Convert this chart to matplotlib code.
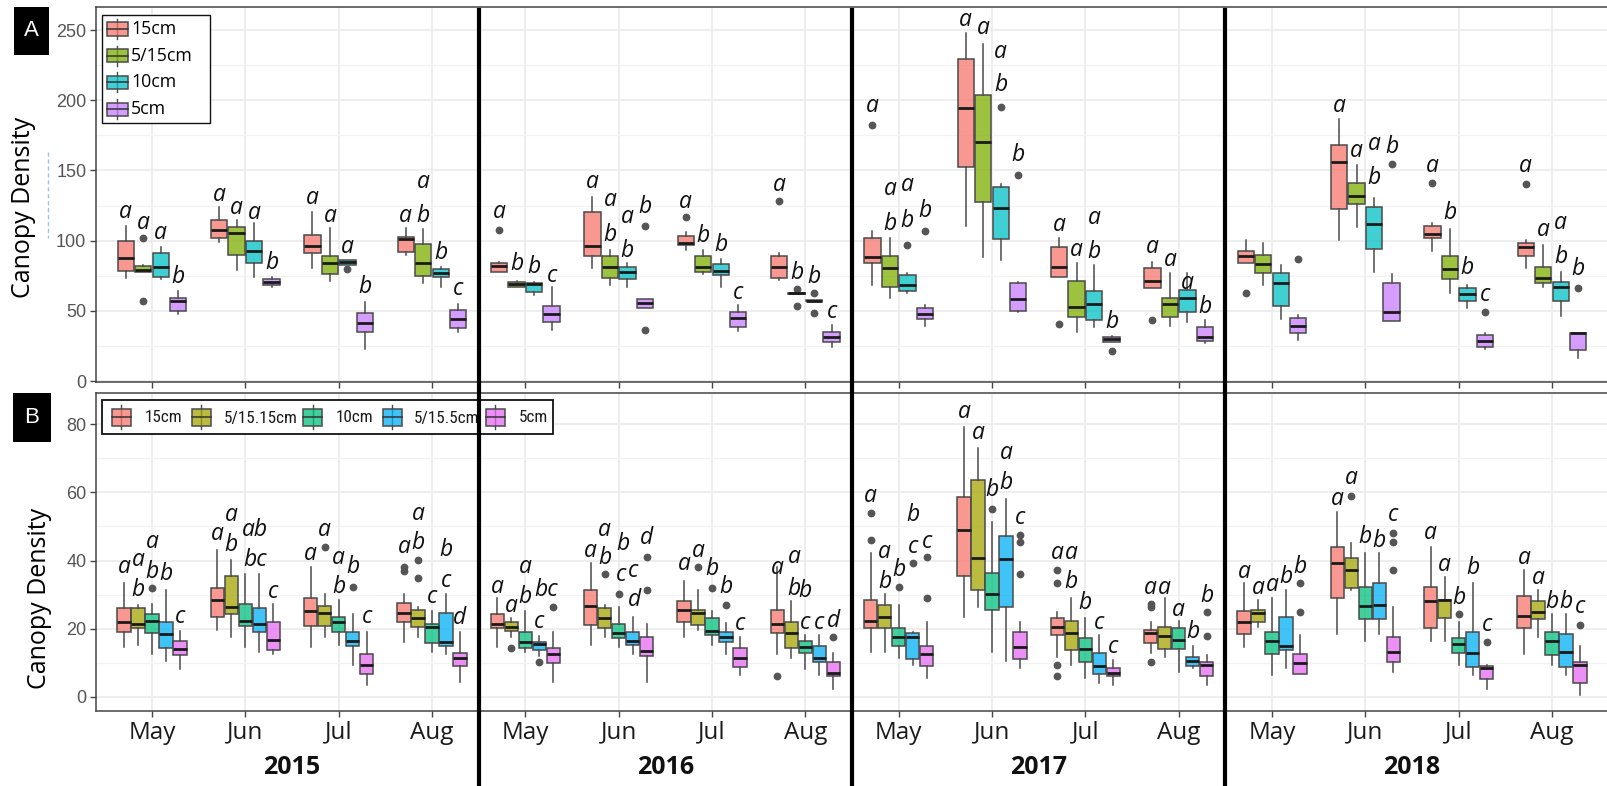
import matplotlib
matplotlib.use("Agg")
import matplotlib.pyplot as plt
from matplotlib import font_manager as fm
from matplotlib.colors import to_rgba
from matplotlib.patches import Rectangle
from matplotlib.lines import Line2D
from matplotlib.transforms import blended_transform_factory
from matplotlib.ticker import MultipleLocator

W, H = 1608, 786

years = ["2015", "2016", "2017", "2018"]
months = ["May", "Jun", "Jul", "Aug"]

# ---------------------------------------------------------------- panel A
treat_a = ["15cm", "5/15cm", "10cm", "5cm"]
colors_a = ["#F8766D", "#7CAE00", "#00BFC4", "#C77CFF"]

# rows: 2015 May ... 2018 Aug ; columns: treatments in legend order
a_low = [
    [73.1, 77.5, 72.4, 47.5], [98.8, 79.1, 74.3, 67.2], [80.2, 71.2, 82.6, 22.8], [89.7, 70.0, 67.2, 35.1],
    [77.5, 67.0, 61.5, 36.3], [80.2, 68.4, 66.7, 52.2], [93.3, 76.5, 66.7, 35.6], [71.9, 62.0, 56.8, 24.5],
    [68.4, 58.9, 62.9, 39.4], [110.4, 88.1, 86.2, 49.0], [74.3, 34.7, 38.2, 27.5], [66.0, 39.2, 42.3, 26.8],
    [84.3, 68.4, 43.9, 29.2], [100.4, 109.9, 77.9, 43.0], [92.8, 62.9, 51.8, 23.0], [80.2, 66.7, 46.3, 16.1],
]
a_q1 = [
    [78.3, 77.9, 74.3, 49.9], [101.6, 89.7, 84.3, 68.4], [90.9, 76.2, 82.6, 34.7], [92.1, 74.8, 73.8, 37.5],
    [77.9, 67.2, 63.6, 42.3], [89.0, 73.6, 72.4, 52.2], [96.9, 77.4, 75.3, 38.7], [73.6, 62.0, 56.8, 28.0],
    [84.3, 66.7, 64.3, 43.9], [152.7, 127.3, 100.9, 50.1], [74.3, 45.3, 43.4, 28.0], [66.0, 45.3, 49.4, 28.7],
    [84.3, 77.2, 53.4, 34.4], [122.3, 126.1, 93.8, 43.0], [101.6, 72.4, 57.2, 24.0], [89.0, 69.6, 57.2, 22.1],
]
a_med = [
    [87.8, 79.1, 81.2, 57.0], [107.5, 105.2, 92.8, 70.5], [96.2, 83.8, 84.5, 41.5], [101.4, 83.8, 77.2, 44.4],
    [82.1, 69.1, 69.1, 47.5], [96.4, 81.0, 77.9, 55.3], [98.1, 81.0, 78.6, 45.1], [81.0, 62.4, 57.2, 31.1],
    [88.6, 80.2, 68.4, 47.5], [194.7, 170.5, 123.0, 58.4], [81.0, 52.9, 54.8, 29.7], [71.2, 54.8, 58.9, 31.6],
    [89.0, 83.3, 70.0, 39.2], [155.7, 131.8, 111.8, 48.9], [104.5, 79.5, 62.0, 28.7], [95.7, 73.1, 67.2, 34.4],
]
a_q3 = [
    [100.0, 81.9, 90.9, 58.9], [114.7, 109.4, 100.0, 72.6], [103.8, 89.0, 86.4, 48.2], [102.8, 97.6, 79.5, 50.6],
    [84.3, 70.8, 69.6, 53.4], [120.1, 89.0, 81.4, 58.2], [103.5, 89.0, 83.3, 48.9], [89.0, 62.8, 57.6, 34.7],
    [101.6, 89.0, 75.5, 52.2], [229.1, 203.7, 138.4, 69.6], [95.7, 71.2, 64.3, 31.6], [80.2, 58.9, 64.8, 38.7],
    [92.8, 89.7, 77.2, 45.1], [168.1, 140.8, 124.2, 69.6], [110.4, 89.0, 66.0, 32.8], [98.1, 81.4, 70.8, 34.4],
]
a_high = [
    [110.6, 82.5, 95.2, 64.3], [124.2, 114.7, 112.8, 74.3], [120.6, 108.7, 86.4, 56.5], [109.2, 108.0, 81.4, 54.8],
    [84.8, 71.5, 70.5, 66.7], [130.8, 93.3, 83.8, 58.2], [105.9, 93.3, 86.7, 54.1], [90.9, 62.8, 57.6, 39.9],
    [106.8, 102.1, 76.7, 54.1], [247.6, 240.0, 140.1, 70.5], [102.1, 84.3, 82.6, 32.0], [85.0, 76.7, 76.7, 43.4],
    [100.4, 98.1, 82.6, 47.0], [186.6, 153.8, 130.1, 76.2], [112.8, 108.0, 68.4, 34.4], [100.4, 96.9, 77.9, 34.4],
]
# outlying points: (month index, treatment index) -> values
a_out = {
    (0, 1): [101.6, 57.0], (2, 2): [79.5], (4, 0): [107.5], (5, 3): [110.6, 36.3],
    (6, 0): [116.6], (7, 0): [128.2], (7, 1): [65.5, 53.4], (7, 2): [62.4, 48.2],
    (8, 0): [182.3], (8, 2): [96.9], (8, 3): [106.8], (9, 2): [195.4], (9, 3): [146.7],
    (10, 0): [40.6], (10, 3): [21.4], (11, 0): [43.4], (12, 0): [62.9], (12, 3): [86.7],
    (13, 3): [154.3], (14, 0): [140.8], (14, 3): [49.4], (15, 0): [140.1], (15, 3): [66.0],
}
# significance letters: (month index, treatment slot, letter, height)
a_letters = [
    (0, 0, "a", 120.6), (0, 1, "a", 112.3), (0, 2, "a", 105.2), (0, 3, "b", 74.3),
    (1, 0, "a", 132.5), (1, 1, "a", 123.0), (1, 2, "a", 119.4), (1, 3, "b", 83.8),
    (2, 0, "a", 130.6), (2, 1, "a", 117.5), (2, 2, "a", 95.7), (2, 3, "b", 67.2),
    (3, 0, "a", 117.5), (3, 1, "b", 117.5), (3, 1, "a", 142.0), (3, 2, "b", 90.9), (3, 3, "c", 65.3),
    (4, 0, "a", 120.6), (4, 1, "b", 83.1), (4, 2, "b", 81.4), (4, 3, "c", 74.8),
    (5, 0, "a", 142.0), (5, 1, "b", 104.0), (5, 1, "a", 128.9), (5, 2, "b", 92.8), (5, 2, "a", 117.0), (5, 3, "b", 124.2),
    (6, 0, "a", 127.7), (6, 1, "b", 103.3), (6, 2, "b", 96.9), (6, 3, "c", 62.9),
    (7, 0, "a", 139.6), (7, 1, "b", 77.2), (7, 2, "b", 74.3), (7, 3, "c", 49.4),
    (8, 0, "a", 195.9), (8, 1, "b", 111.8), (8, 1, "a", 136.5), (8, 2, "b", 114.2), (8, 2, "a", 139.6), (8, 3, "b", 121.0),
    (9, 0, "a", 257.1), (9, 1, "a", 251.2), (9, 2, "a", 234.6), (9, 2, "b", 210.8), (9, 3, "b", 161.0),
    (10, 0, "a", 111.1), (10, 1, "a", 93.3), (10, 2, "b", 92.1), (10, 2, "a", 115.9), (10, 3, "b", 42.3),
    (11, 0, "a", 95.7), (11, 1, "a", 86.2), (11, 2, "a", 70.0), (11, 3, "b", 52.9),
    (13, 0, "a", 195.9), (13, 1, "a", 164.1), (13, 2, "b", 144.3), (13, 2, "a", 168.8), (13, 3, "b", 166.9),
    (14, 0, "a", 153.1), (14, 1, "b", 119.4), (14, 2, "b", 80.2), (14, 3, "c", 61.3),
    (15, 0, "a", 153.4), (15, 1, "a", 107.5), (15, 2, "b", 88.6), (15, 2, "a", 112.8), (15, 3, "b", 79.5),
]

# ---------------------------------------------------------------- panel B
treat_b = ["15cm", "5/15.15cm", "10cm", "5/15.5cm", "5cm"]
colors_b = ["#F8766D", "#A3A500", "#00BF7D", "#00B0F6", "#E76BF3"]

b_low = [
    [14.5, 15.2, 12.5, 10.6, 8.1], [19.6, 17.6, 14.5, 13.2, 12.5], [14.5, 17.6, 15.2, 9.3, 3.4], [16.2, 17.6, 13.2, 12.5, 4.4],
    [14.5, 17.6, 13.2, 11.9, 4.4], [15.2, 17.6, 14.5, 12.5, 4.2], [17.6, 19.6, 15.2, 12.5, 6.4], [12.5, 11.3, 8.1, 6.4, 2.4],
    [13.2, 13.2, 11.3, 9.3, 5.4], [23.3, 26.4, 13.2, 10.6, 8.3], [11.6, 9.3, 5.4, 4.1, 3.4], [12.7, 11.6, 7.3, 8.3, 3.4],
    [14.5, 20.4, 6.4, 8.3, 6.7], [18.4, 31.3, 16.4, 18.4, 7.3], [16.4, 16.4, 9.3, 6.4, 2.4], [12.5, 17.6, 9.3, 6.4, 0.5],
]
b_q1 = [
    [19.1, 20.1, 18.6, 14.2, 12.2], [23.5, 24.3, 20.8, 19.1, 13.7], [20.8, 20.8, 19.1, 14.9, 6.7], [21.8, 20.4, 15.9, 14.9, 9.0],
    [20.1, 19.4, 14.2, 13.7, 9.8], [21.0, 20.1, 17.3, 15.2, 11.9], [21.8, 21.0, 18.1, 16.2, 8.6], [18.8, 14.2, 12.9, 10.3, 6.1],
    [20.1, 20.1, 14.9, 11.0, 9.0], [35.4, 31.3, 25.5, 26.4, 11.0], [18.1, 13.7, 10.3, 6.7, 6.1], [15.7, 13.9, 13.9, 9.0, 6.1],
    [18.4, 21.8, 12.5, 13.7, 6.7], [28.9, 31.8, 22.7, 22.7, 10.3], [20.1, 23.0, 12.9, 8.8, 5.1], [20.1, 22.7, 12.2, 8.8, 3.9],
]
b_med = [
    [22.0, 21.3, 22.3, 18.3, 13.9], [28.4, 26.2, 22.3, 21.3, 16.8], [25.3, 24.7, 22.0, 16.4, 9.3], [24.7, 23.0, 20.6, 16.2, 11.3],
    [21.3, 20.6, 16.2, 15.5, 12.5], [26.7, 23.0, 18.6, 16.4, 13.5], [25.6, 24.5, 19.4, 17.6, 11.3], [21.3, 18.8, 14.7, 11.3, 7.0],
    [22.3, 23.5, 17.6, 17.6, 12.5], [48.9, 40.6, 30.2, 40.4, 14.7], [20.4, 18.6, 13.9, 9.0, 7.0], [18.6, 17.9, 16.6, 10.5, 9.3],
    [21.8, 24.5, 16.4, 14.9, 9.8], [39.4, 37.2, 26.6, 26.9, 13.2], [28.2, 28.4, 15.5, 12.9, 8.3], [23.7, 25.0, 16.4, 13.2, 9.3],
]
b_q3 = [
    [26.1, 26.1, 24.2, 21.8, 16.4], [32.0, 35.4, 27.2, 26.1, 22.0], [28.9, 26.6, 23.5, 19.1, 12.5], [27.4, 25.5, 21.3, 24.5, 12.9],
    [24.2, 21.8, 19.1, 16.2, 14.2], [31.3, 26.1, 21.3, 19.1, 17.6], [28.2, 25.5, 23.0, 19.1, 14.2], [25.5, 21.8, 16.4, 14.9, 10.3],
    [28.4, 26.9, 20.1, 18.6, 14.9], [58.7, 63.6, 36.2, 47.2, 19.1], [23.0, 22.3, 17.1, 12.9, 8.3], [19.6, 20.4, 20.1, 11.6, 10.3],
    [25.3, 25.5, 19.1, 23.5, 12.5], [44.1, 40.8, 32.3, 33.3, 17.6], [32.3, 28.4, 17.1, 19.1, 9.0], [29.6, 28.2, 19.1, 18.4, 10.3],
]
b_high = [
    [33.3, 26.9, 27.1, 31.3, 19.3], [43.1, 40.1, 36.0, 36.0, 27.1], [38.2, 30.2, 28.4, 24.2, 19.1], [30.2, 26.2, 25.3, 30.2, 19.1],
    [29.1, 23.0, 25.3, 17.9, 19.1], [39.2, 26.9, 26.2, 23.3, 21.3], [34.1, 31.3, 25.3, 21.7, 17.4], [38.0, 28.2, 18.1, 18.1, 12.9],
    [42.3, 30.2, 26.9, 19.1, 22.0], [79.1, 72.9, 51.2, 58.2, 22.0], [25.0, 28.9, 23.0, 18.1, 10.8], [22.0, 28.9, 22.3, 14.9, 12.2],
    [33.3, 28.4, 28.9, 31.3, 18.1], [54.3, 45.2, 42.3, 42.3, 26.2], [44.1, 35.2, 22.0, 33.3, 9.3], [37.2, 31.3, 24.3, 24.3, 14.9],
]
b_out = {
    (0, 2): [31.8], (2, 1): [44.1], (2, 3): [32.1], (3, 0): [38.0, 37.0], (3, 1): [40.1, 35.0],
    (4, 1): [14.2], (4, 3): [10.3], (4, 4): [26.2], (5, 1): [36.0], (5, 2): [30.1], (5, 4): [40.9, 31.3],
    (6, 1): [38.2], (6, 2): [32.0], (6, 3): [26.9], (7, 0): [6.1], (7, 4): [17.4],
    (8, 0): [46.0, 54.0], (8, 2): [32.1], (8, 3): [39.2], (8, 4): [40.9, 28.9],
    (9, 2): [55.0], (9, 4): [47.5, 45.5, 36.0], (10, 0): [37.2, 33.3, 9.3, 6.1],
    (11, 0): [27.1, 26.4, 10.3], (11, 4): [25.0, 17.9], (12, 4): [33.3, 25.0],
    (13, 1): [58.9], (13, 4): [48.2, 45.5, 37.2], (14, 2): [24.3], (14, 4): [16.2], (15, 4): [21.0],
}
b_letters = [
    (0, 0, "a", 38.2), (0, 1, "a", 40.1), (0, 1, "b", 31.3), (0, 2, "a", 45.5), (0, 2, "b", 36.7), (0, 3, "b", 36.0), (0, 4, "c", 23.3),
    (1, 0, "a", 47.8), (1, 1, "a", 53.4), (1, 1, "b", 44.5), (1, 2.7, "ab", 49.1), (1, 2.7, "bc", 40.1), (1, 4, "c", 30.8),
    (2, 0, "a", 41.8), (2, 1, "a", 48.9), (2, 2, "a", 40.6), (2, 2, "b", 32.1), (2, 3, "b", 38.2), (2, 4, "c", 23.5),
    (3, 0, "a", 44.1), (3, 1, "b", 45.0), (3, 1, "a", 53.8), (3, 2, "c", 29.2), (3, 3, "c", 34.1), (3, 3, "b", 43.1), (3, 4, "d", 23.0),
    (4, 0, "a", 32.3), (4, 1, "a", 26.6), (4, 2, "b", 29.4), (4, 2, "a", 38.0), (4, 3, "c", 22.0), (4, 3.5, "bc", 31.3),
    (5, 0, "a", 42.8), (5, 1, "b", 40.6), (5, 1, "a", 49.1), (5, 2.3, "b", 44.8), (5, 2.2, "c", 35.7), (5, 3, "c", 36.9),
    (5, 3.1, "d", 28.4), (5, 4, "d", 46.5),
    (6, 0, "a", 38.9), (6, 1, "a", 42.9), (6, 2, "b", 37.4), (6, 3, "b", 32.1), (6, 4, "c", 21.3),
    (7, 0, "a", 37.7), (7, 1.2, "a", 40.9), (7, 1.2, "b", 31.6), (7, 2, "b", 31.1), (7, 2, "c", 21.5), (7, 3, "c", 21.5), (7, 4, "d", 22.3),
    (8, 0, "a", 58.9), (8, 1, "a", 42.6), (8, 1, "b", 33.8), (8, 2, "b", 37.2), (8, 3, "c", 44.1), (8, 3, "b", 53.4), (8, 4, "c", 45.5),
    (9, 0, "a", 83.7), (9, 1, "a", 77.5), (9, 2, "b", 60.7), (9, 3, "b", 62.7), (9, 3, "a", 71.5), (9, 4, "c", 52.4),
    (10, 0, "a", 42.3), (10, 1, "a", 42.3), (10, 1, "b", 33.8), (10, 2, "b", 27.4), (10, 3, "c", 21.7), (10, 4, "c", 14.7),
    (11, 0, "a", 32.0), (11, 1, "a", 32.0), (11, 2, "a", 25.5), (11, 3, "b", 19.1), (11, 4, "b", 29.6),
    (12, 0, "a", 36.7), (12, 1, "a", 31.8), (12, 2, "a", 32.8), (12, 3, "b", 35.2), (12, 4, "b", 38.2),
    (13, 0, "a", 58.0), (13, 1, "a", 64.1), (13, 2, "b", 47.0), (13, 3, "b", 45.8), (13, 4, "c", 53.4),
    (14, 0, "a", 48.2), (14, 1, "a", 38.7), (14, 2, "b", 29.1), (14, 3, "b", 37.7), (14, 4, "c", 21.0),
    (15, 0, "a", 40.6), (15, 1, "a", 35.0), (15, 2, "b", 27.9), (15, 3, "b", 27.9), (15, 4, "c", 26.2),
]


# ---------------------------------------------------------------- fonts
def pick_family(candidates, style="normal"):
    for fam in candidates:
        for f in fm.fontManager.ttflist:
            if f.name == fam and f.style == style:
                return fam
    return "DejaVu Sans"


SANS = pick_family(["Open Sans", "Lato", "Noto Sans"])
ITALIC = pick_family(["Open Sans", "Noto Sans", "Lato", "DejaVu Sans"], style="italic")
NARROW = pick_family(["Liberation Sans Narrow", "Roboto Condensed", "Liberation Sans"])
TICKS = pick_family(["Liberation Sans", "DejaVu Sans"])
plt.rcParams["font.family"] = [SANS, "DejaVu Sans"]

# ---------------------------------------------------------------- figure
fig = plt.figure(figsize=(W / 100, H / 100), dpi=100)


def px_rect(x0, y0, x1, y1):
    return [x0 / W, 1 - y1 / H, (x1 - x0) / W, (y1 - y0) / H]


def fx(x):
    return x / W


def fy(y):
    return 1 - y / H


axA = fig.add_axes(px_rect(96, 7, 1608, 382))
axB = fig.add_axes(px_rect(96, 393, 1608, 711))

n_groups = len(years) * len(months)
EDGE = "#4A4A4A"


def draw_panel(ax, low, q1, med, q3, high, outliers, letters, colors, box_w):
    n = len(colors)
    slot = 0.75 / n
    stats, pos, fills = [], [], []
    for g in range(n_groups):
        for t in range(n):
            stats.append(dict(whislo=low[g][t], q1=q1[g][t], med=med[g][t], q3=q3[g][t],
                              whishi=high[g][t], fliers=outliers.get((g, t), [])))
            pos.append(g + 1 + (t - (n - 1) / 2) * slot)
            fills.append(colors[t])
    art = ax.bxp(stats, positions=pos, widths=box_w * slot, patch_artist=True,
                 showcaps=False, showfliers=True,
                 boxprops=dict(edgecolor=EDGE, linewidth=1.1),
                 whiskerprops=dict(color=EDGE, linewidth=1.1),
                 medianprops=dict(color="#1A1A1A", linewidth=2.0),
                 flierprops=dict(marker="o", markersize=4.6, markerfacecolor="#555555",
                                 markeredgecolor="#555555"))
    for patch, c in zip(art["boxes"], fills):
        patch.set_facecolor(to_rgba(c, 0.75))
    for g, s, txt, yv in letters:
        ax.text(g + 1 + (s - (n - 1) / 2) * slot, yv, txt, ha="center", va="center",
                fontsize=16.5, family=ITALIC, style="italic", color="#111111", zorder=5)


draw_panel(axA, a_low, a_q1, a_med, a_q3, a_high, a_out, a_letters, colors_a, 0.94)
draw_panel(axB, b_low, b_q1, b_med, b_q3, b_high, b_out, b_letters, colors_b, 0.94)

for ax, (ylo, yhi), major, minor in [(axA, (-0.7, 266.4), 50, 25), (axB, (-4.2, 89.2), 20, 10)]:
    ax.set_xlim(0.4, n_groups + 0.6)
    ax.set_ylim(ylo, yhi)
    ax.set_axisbelow(True)
    ax.yaxis.set_major_locator(MultipleLocator(major))
    ax.yaxis.set_minor_locator(MultipleLocator(minor))
    ax.set_xticks(range(1, n_groups + 1))
    ax.grid(which="major", color="#EBEBEB", linewidth=1.2)
    ax.grid(which="minor", axis="y", color="#F2F2F2", linewidth=0.9)
    ax.tick_params(which="minor", length=0)
    ax.tick_params(which="major", length=4, width=1, color="#444444", pad=3)
    ax.tick_params(axis="y", labelsize=13, labelcolor="#555555")
    for sp in ax.spines.values():
        sp.set_color("#444444")
        sp.set_linewidth(1.1)

axA.set_yticks(range(0, 251, 50))
axA.set_yticklabels([str(v) for v in range(0, 251, 50)], family=TICKS, fontsize=13, color="#555555")
axA.set_xticklabels([])
axB.set_yticks(range(0, 81, 20))
axB.set_yticklabels([str(v) for v in range(0, 81, 20)], family=TICKS, fontsize=13, color="#555555")
axB.set_xticklabels(months * len(years), fontsize=17.5, color="#1A1A1A")
axB.tick_params(axis="x", pad=3)

# axis titles
fig.text(fx(24), fy(207), "Canopy Density", rotation=90, ha="center", va="center", fontsize=18)
fig.text(fx(40), fy(598), "Canopy Density", rotation=90, ha="center", va="center", fontsize=18)
fig.add_artist(Line2D([fx(48), fx(48)], [fy(152), fy(238)], transform=fig.transFigure,
                      color="#9DC3E6", linewidth=1.0, linestyle=(0, (3, 2))))

# panel tags
for (x0, y0, x1, y1), tag in [((14, 7, 49, 55), "A"), ((13, 393, 51, 442), "B")]:
    fig.add_artist(Rectangle((fx(x0), fy(y1)), (x1 - x0) / W, (y1 - y0) / H,
                             transform=fig.transFigure, facecolor="black", edgecolor="none"))
    fig.text(fx((x0 + x1) / 2), fy((y0 + y1) / 2), tag, color="white", ha="center",
             va="center", fontsize=16, family=TICKS)


def legend_key(x0, x1, yc, half_h, stub, color):
    xc = (x0 + x1) / 2
    fig.add_artist(Line2D([fx(xc), fx(xc)], [fy(yc - half_h - stub), fy(yc + half_h + stub)],
                          transform=fig.transFigure, color=EDGE, linewidth=1.0, zorder=2))
    fig.add_artist(Rectangle((fx(x0), fy(yc + half_h)), (x1 - x0) / W, 2 * half_h / H,
                             transform=fig.transFigure, facecolor=to_rgba(color, 0.75),
                             edgecolor=EDGE, linewidth=1.1, zorder=2.1))
    fig.add_artist(Line2D([fx(x0), fx(x1)], [fy(yc), fy(yc)], transform=fig.transFigure,
                          color="#333333", linewidth=1.1, zorder=2.2))


# legend, panel A (vertical)
fig.add_artist(Rectangle((fx(102), fy(123)), 108 / W, 108 / H, transform=fig.transFigure,
                         facecolor="white", edgecolor="#111111", linewidth=1.0, zorder=1.9))
for i, (name, c) in enumerate(zip(treat_a, colors_a)):
    yc = 29 + i * 26.7
    legend_key(107, 128, yc, 6.5, 3.5, c)
    fig.text(fx(131), fy(yc), name, ha="left", va="center", fontsize=12.8, zorder=2.3)

# legend, panel B (horizontal)
fig.add_artist(Rectangle((fx(102), fy(434)), 451 / W, 34 / H, transform=fig.transFigure,
                         facecolor="white", edgecolor="#111111", linewidth=1.3, zorder=1.9))
key_x = [112, 192, 303, 383, 486]
text_x = [145, 224, 336, 414, 519]
for name, c, kx, tx in zip(treat_b, colors_b, key_x, text_x):
    legend_key(kx, kx + 19, 417, 8.5, 3.5, c)
    fig.text(fx(tx), fy(418), name, ha="left", va="center", fontsize=12.3, family=NARROW,
             color="#1A1A1A", zorder=2.3)

# year separators and year captions
sep_tr = blended_transform_factory(axA.transData, fig.transFigure)
for k in range(1, len(years)):
    xv = 4 * k + 0.5
    fig.add_artist(Line2D([xv, xv], [fy(10), 0], transform=sep_tr, color="black",
                          linewidth=3.0, zorder=10))
cap_tr = blended_transform_factory(axB.transData, fig.transFigure)
for k, yr in enumerate(years):
    fig.text(4 * k + 2.5, fy(768), yr, transform=cap_tr, ha="center", va="center",
             fontsize=18, fontweight="bold", color="#111111")

fig.savefig("out.png", dpi=100)
